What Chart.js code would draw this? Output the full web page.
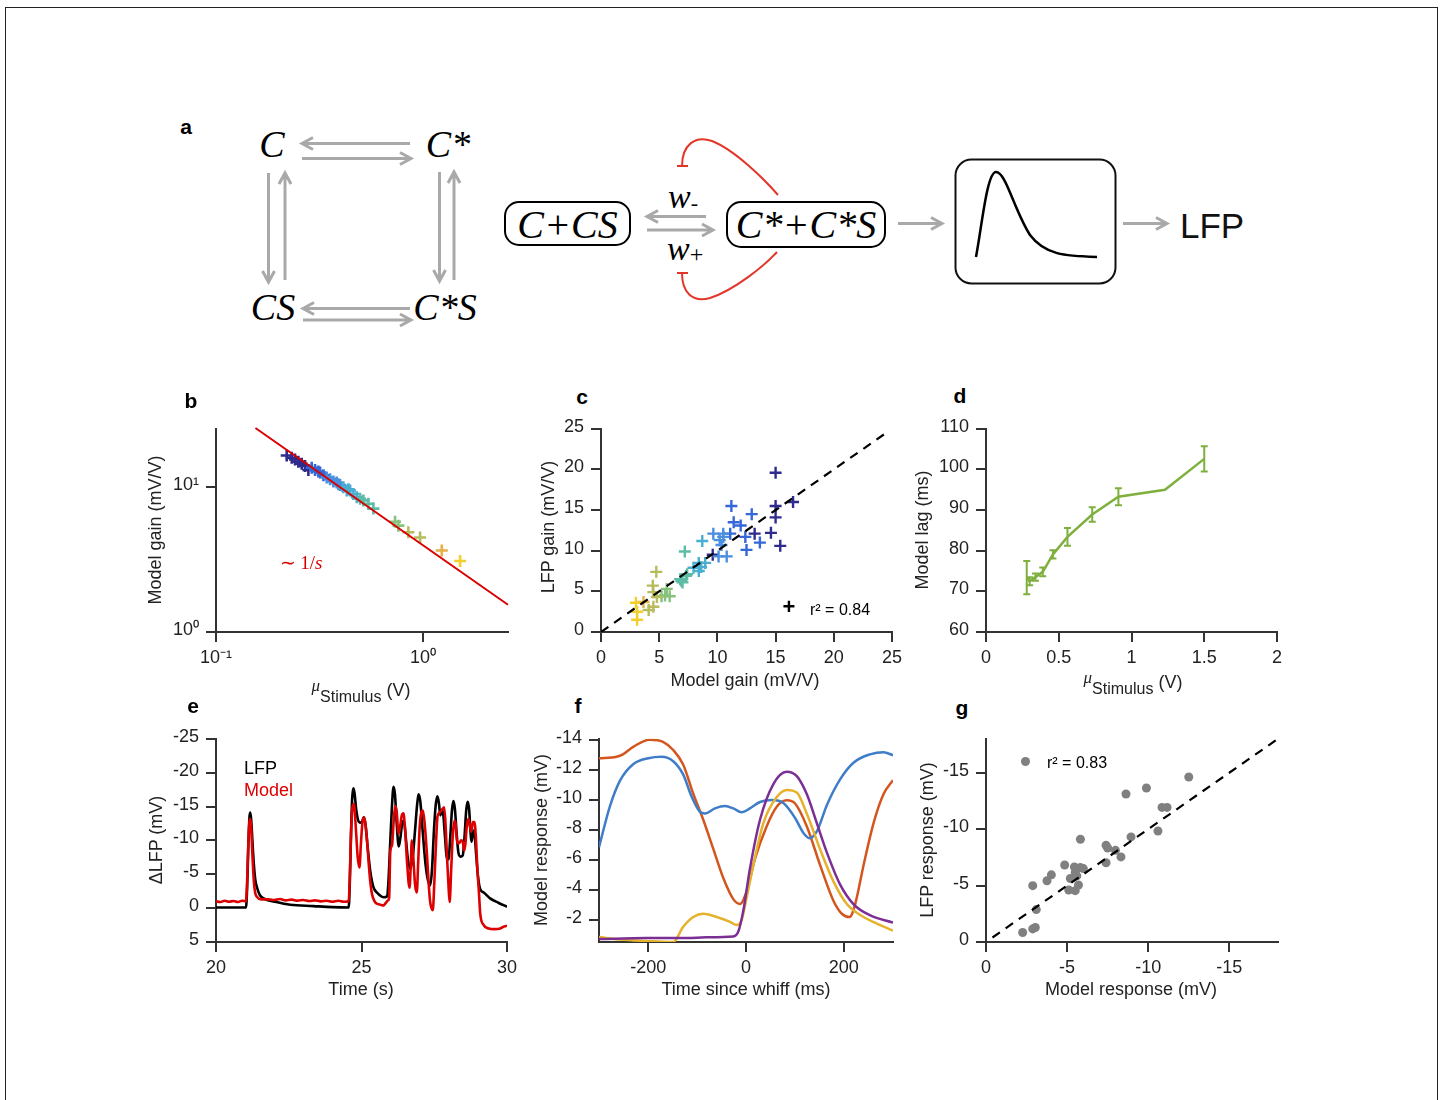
<!DOCTYPE html>
<html>
<head>
<meta charset="utf-8">
<title>LFP model figure</title>
<script src="https://cdn.jsdelivr.net/npm/chart.js@4.4.1/dist/chart.umd.min.js"></script>
<style>
  body { margin:0; width:1443px; height:1100px; position:relative; overflow:hidden; background:#fff;
         font-family:"Liberation Sans", Arial, Helvetica, sans-serif; color:#222; }
  .frame { position:absolute; left:5px; top:7px; width:1433px; height:1100px; border:1px solid #222; border-bottom:none; box-sizing:border-box; }
  canvas { position:absolute; }
  .t { position:absolute; white-space:nowrap; font-size:18px; line-height:1; transform:translate(-50%,-50%); }
  .rot { transform:translate(-50%,-50%) rotate(-90deg); }
  .lt { transform:translate(0,-50%); }
  .p { position:absolute; font-weight:bold; font-size:21px; line-height:1; color:#000; transform:translate(-50%,-50%); }
  .mu { font-family:"Liberation Serif", serif; font-style:italic; font-size:17px; position:relative; top:-5px; }
  .sub { font-size:16px; position:relative; top:6px; }
  svg { position:absolute; left:0; top:0; }
  .dg { font-family:"Liberation Serif","Times New Roman",serif; font-style:italic; fill:#000; }
</style>
</head>
<body>
<div class="frame"></div>

<svg id="diagram" width="1443" height="360">
  <g class="dg" font-size="38" text-anchor="middle">
    <text x="272" y="157">C</text>
    <text x="448" y="157">C*</text>
    <text x="273" y="320">CS</text>
    <text x="445" y="320">C*S</text>
  </g>
  <g id="arrows" stroke="#a9a9a9" stroke-width="3" fill="none"></g>
  <rect x="505" y="202" width="125" height="43" rx="14" fill="none" stroke="#000" stroke-width="2"/>
  <text class="dg" x="567.5" y="238" font-size="40" text-anchor="middle">C+CS</text>
  <rect x="727" y="202" width="158" height="45" rx="14" fill="none" stroke="#000" stroke-width="2"/>
  <text class="dg" x="806" y="238" font-size="40" text-anchor="middle">C*+C*S</text>
  <text class="dg" x="668" y="208" font-size="34">w<tspan font-size="22" font-style="normal" dy="2">-</tspan></text>
  <text class="dg" x="667" y="260" font-size="34">w<tspan font-size="24" font-style="normal" dy="2">+</tspan></text>
  <g stroke="#e3362b" stroke-width="2" fill="none">
    <path d="M778,195 C765,180 735,150 712,141 C695,135 682,145 682,166"/>
    <path d="M677,166 H688"/>
    <path d="M777,252 C765,265 735,290 710,298 C692,303 682,292 682,273"/>
    <path d="M677,273 H688"/>
  </g>
  <rect x="955.5" y="159.5" width="160" height="124" rx="16" fill="none" stroke="#111" stroke-width="2"/>
  <path d="M976,257 C982,225 987,172 996,172 C1006,172 1014,210 1030,235 C1045,255 1065,256 1097,257" fill="none" stroke="#000" stroke-width="2.5"/>
  <text x="1180" y="238" font-size="35" font-family="Liberation Sans, Arial, sans-serif" fill="#111">LFP</text>
</svg>

<div id="charts"></div>

<div class="p" style="left:186px;top:126px">a</div>
<div class="p" style="left:191px;top:400px">b</div>
<div class="p" style="left:582px;top:396px">c</div>
<div class="p" style="left:960px;top:395px">d</div>
<div class="p" style="left:193px;top:705px">e</div>
<div class="p" style="left:578px;top:705px">f</div>
<div class="p" style="left:962px;top:707px">g</div>

<div class="t rot" style="left:155px;top:530px">Model gain (mV/V)</div>
<div class="t" style="left:361px;top:690px"><span class="mu">μ</span><span class="sub">Stimulus</span> (V)</div>
<div class="t" style="left:301px;top:562px;color:#d40000;font-family:'Liberation Serif',serif;font-size:19px">∼ 1/<i>s</i></div>

<div class="t rot" style="left:548px;top:527px">LFP gain (mV/V)</div>
<div class="t" style="left:745px;top:680px">Model gain (mV/V)</div>
<div class="t" style="left:789px;top:607px;font-weight:bold;font-size:22px;color:#000">+</div>
<div class="t lt" style="left:810px;top:610px;font-size:16px;color:#000">r² = 0.84</div>

<div class="t rot" style="left:922px;top:530px">Model lag (ms)</div>
<div class="t" style="left:1133px;top:682px"><span class="mu">μ</span><span class="sub">Stimulus</span> (V)</div>

<div class="t rot" style="left:156px;top:840px">ΔLFP (mV)</div>
<div class="t" style="left:361px;top:989px">Time (s)</div>
<div class="t lt" style="left:244px;top:768px;color:#000">LFP</div>
<div class="t lt" style="left:244px;top:790px;color:#dd0000">Model</div>

<div class="t rot" style="left:541px;top:840px">Model response (mV)</div>
<div class="t" style="left:746px;top:989px">Time since whiff (ms)</div>

<div class="t rot" style="left:927px;top:840px">LFP response (mV)</div>
<div class="t" style="left:1131px;top:989px">Model response (mV)</div>
<div style="position:absolute;left:1020.5px;top:756.5px;width:9px;height:9px;border-radius:50%;background:#808080"></div>
<div class="t lt" style="left:1047px;top:763px;font-size:16px;color:#000">r² = 0.83</div>

<script>
// ---------- panel b: model gain vs mean stimulus (log-log)
const stimMean = [0.2195,0.2321,0.2408,0.2498,0.2594,0.2692,0.2793,0.2899,0.3008,0.3123,0.3181,0.3301,0.3425,0.3554,0.3688,0.3828,0.39,0.3972,0.4121,0.4279,0.436,0.4441,0.4607,0.4784,0.4963,0.5148,0.5443,0.5754,0.732,0.76,0.849,0.967,1.231,1.509];
const modelGainB = [16.36,15.78,15.37,14.83,14.37,13.86,13.02,13.5,13.02,12.7,12.49,11.98,11.56,11.26,10.86,10.69,10.4,10.25,9.89,9.4,9.6,9.4,8.91,8.47,8.25,8.04,7.63,7.06,5.74,5.39,4.86,4.47,3.64,3.08];
const fitX = [0.155, 2.57];
const fitY = [25.3, 1.54];
const logXTicks = [0.1, 1];
const logYTicks = [1, 10];
const logLabels = {0.1: '10⁻¹', 1: '10⁰', 10: '10¹'};

// ---------- panel c: LFP gain vs model gain
const modelGainC = [15.0,16.5,15.0,15.0,14.6,13.2,15.4,9.6, 13.65,12.5,12.95,11.2,11.4,12.0,12.4,11.1, 10.5,9.65,10.2,10.35,10.1,10.8,10.5, 8.7,8.4,8.95,7.95,8.4,8.6, 7.2,7.3,6.8,7.0,7.4,6.9, 5.65,5.5,5.9,5.2, 4.75,4.45,4.5,4.8,4.5,4.1, 3.65, 3.0,3.1,3.1];
const lfpGainC = [19.6,16.0,15.5,14.1,12.2,12.1,10.6,9.5, 11.0,10.1,14.5,15.5,13.5,13.1,11.7,12.1, 12.1,12.1,11.3,10.7,9.3,9.3,11.7, 11.2,8.5,8.5,7.9,7.5,8.0, 9.9,6.9,6.5,6.1,7.1,6.3, 5.3,4.5,4.4,4.4, 7.4,5.7,4.9,4.3,3.1,2.7, 3.7, 3.6,2.5,1.5];
const unityC = [0, 24.5];
const gainTicks = [0, 5, 10, 15, 20, 25];

// ---------- panel d: model lag vs mean stimulus
const lagStim = [0.28, 0.30, 0.34, 0.39, 0.46, 0.56, 0.73, 0.91, 1.23, 1.50];
const lagMs = [73.4, 72.5, 73.5, 74.8, 79.1, 83.4, 88.9, 93.3, 95.0, 102.6];
const lagErr = [4.1, 1.0, 0.9, 1.1, 1.0, 2.2, 1.8, 2.1, 0, 3.1];
const lagXTicks = [0, 0.5, 1, 1.5, 2];
const lagYTicks = [60, 70, 80, 90, 100, 110];

// ---------- panel e: LFP and model traces [time s, dLFP mV]
const lfpTrace = [[20.0,-0.1],[21.03,-0.1],[21.07,-3],[21.11,-9],[21.15,-13.4],[21.18,-14.1],[21.21,-13.0],[21.25,-10.0],[21.3,-6.5],[21.35,-4.2],[21.42,-2.9],[21.51,-1.9],[21.7,-1.3],[21.97,-1.0],[22.55,-0.5],[23.35,-0.3],[24.0,-0.15],[24.56,-0.1],
  [24.6,-4],[24.64,-11],[24.68,-16.2],[24.72,-17.7],[24.76,-17.0],[24.82,-14.5],[24.9,-12.8],[25.0,-12.6],[25.08,-13.4],[25.14,-12.3],[25.2,-9.5],[25.3,-5.5],[25.41,-3.1],[25.55,-2.2],[25.76,-1.6],[25.87,-1.7],
  [25.92,-3.5],[25.98,-9],[26.04,-14.5],[26.1,-17.9],[26.15,-16.8],[26.21,-12.5],[26.28,-9.1],[26.34,-10.5],[26.41,-12.8],[26.46,-12.9],[26.52,-10.5],[26.6,-7.0],[26.68,-5.8],[26.76,-7.5],[26.84,-11.5],[26.91,-15.2],[26.96,-16.8],[27.02,-15.8],[27.1,-11.5],[27.2,-6.5],[27.29,-4.0],[27.36,-3.4],[27.42,-5.5],[27.49,-11.5],[27.55,-15.2],[27.61,-16.5],[27.66,-15.5],[27.71,-13.7],[27.76,-14.5],[27.81,-13.8],[27.87,-10.5],[27.93,-7.5],[27.99,-7.2],[28.05,-10.5],[28.11,-14.5],[28.16,-15.8],[28.21,-14.6],[28.27,-11],[28.33,-8.2],[28.4,-7.6],[28.48,-7.8],[28.54,-10.5],[28.6,-14.5],[28.65,-15.7],[28.7,-14.5],[28.75,-11],[28.78,-9.8],[28.83,-11.2],[28.87,-11.5],[28.93,-8.5],[29.0,-4.8],[29.08,-2.8],[29.2,-2.3],[29.43,-1.4],[29.7,-0.8],[30.0,-0.2]];
const modelTrace = [[20.0,-1.0],[20.15,-0.9],[20.3,-1.1],[20.45,-0.95],[20.6,-1.05],[20.75,-0.9],[20.9,-1.1],[21.03,-1.0],[21.07,-4],[21.11,-9.5],[21.15,-12.8],[21.18,-13.2],[21.21,-11.8],[21.25,-8],[21.3,-4],[21.35,-2.2],[21.42,-1.6],[21.55,-1.3],[21.8,-1.3],[22.0,-1.2],[22.2,-1.35],[22.4,-1.15],[22.6,-1.25],[22.8,-1.1],[23.0,-1.2],[23.2,-1.05],[23.4,-1.15],[23.6,-1.0],[23.8,-1.1],[24.0,-0.95],[24.2,-1.1],[24.4,-0.95],[24.56,-1.0],
  [24.6,-5],[24.64,-11],[24.68,-14.5],[24.72,-15.35],[24.76,-14.8],[24.81,-11.5],[24.87,-7.5],[24.93,-6.0],[24.98,-9.5],[25.03,-12.5],[25.09,-13.4],[25.14,-12.2],[25.2,-9.5],[25.25,-6.5],[25.3,-4.0],[25.36,-2.1],[25.45,-1.0],[25.53,-0.65],[25.65,-0.5],[25.76,-0.4],[25.82,-0.7],[25.86,-0.9],[25.9,-1.1],[25.95,-1.5],[25.99,-8.4],[26.05,-9.3],[26.1,-12.5],[26.16,-15.1],[26.21,-14.2],[26.27,-11.0],[26.32,-11.8],[26.38,-13.6],[26.44,-14.0],[26.5,-11.5],[26.57,-6.5],[26.65,-3.0],[26.69,-6],[26.73,-10.0],[26.78,-7.5],[26.84,-3.5],[26.9,-2.3],[26.95,-7.0],[27.0,-12.0],[27.05,-14.0],[27.11,-14.4],[27.17,-12.5],[27.25,-7.9],[27.31,-3.5],[27.36,-0.9],[27.45,0.3],[27.5,-3.5],[27.56,-9.5],[27.61,-13.5],[27.66,-14.0],[27.72,-14.3],[27.78,-14.6],[27.84,-14.9],[27.88,-13.0],[27.94,-7.5],[28.0,-2.5],[28.03,-0.9],[28.08,-5.5],[28.14,-11],[28.19,-12.9],[28.23,-12.5],[28.29,-9.6],[28.36,-9.6],[28.42,-10.0],[28.48,-9.8],[28.53,-8.5],[28.57,-9.5],[28.62,-12.2],[28.68,-13.2],[28.73,-12.0],[28.77,-11.3],[28.83,-12.7],[28.88,-12.7],[28.93,-10.5],[28.98,-6],[29.04,-2],[29.08,0.8],[29.2,2.5],[29.37,3.0],[29.55,3.1],[29.77,3.0],[29.9,2.7],[30.0,2.6]];
const timeTicks = [20, 25, 30];
const dlfpTicks = [-25, -20, -15, -10, -5, 0, 5];

// ---------- panel f: model response around whiffs [ms, mV]
const whiffBlue = [[-301,-6.84],[-279,-9.55],[-258,-11.3],[-231,-12.4],[-200,-12.8],[-173,-12.9],[-149,-12.6],[-128.5,-11.7],[-111,-10.2],[-94,-9.2],[-84,-9.1],[-63.6,-9.44],[-43,-9.6],[-26,-9.44],[-9,-9.18],[8,-9.44],[28.7,-9.87],[52.6,-10.0],[76.6,-9.8],[100.5,-8.8],[117.6,-7.8],[130,-7.45],[145,-7.9],[165.5,-9.66],[193,-11.4],[220,-12.5],[254,-13.06],[281.7,-13.2],[301,-13.0]];
const whiffOrange = [[-301,-12.8],[-265,-12.9],[-252,-13.06],[-231,-13.56],[-197,-14.04],[-170,-13.9],[-149,-13.35],[-128.5,-12.37],[-108,-10.42],[-87.5,-8.68],[-67,-6.73],[-46.5,-4.78],[-26,-3.37],[-12.3,-3.04],[1.4,-3.9],[18.5,-6.08],[42.4,-8.25],[62.9,-9.55],[83.4,-9.98],[100.5,-9.77],[124.4,-8.25],[151.8,-5.64],[179,-3.26],[196.2,-2.39],[212,-2.17],[223.6,-3.04],[240.7,-5.64],[261.2,-8.46],[281.7,-10.4],[301,-11.33]];
const whiffYellow = [[-301,-0.83],[-258.5,-0.66],[-190,-0.55],[-149,-0.5],[-128.5,-1.52],[-108,-2.17],[-87.5,-2.39],[-60,-2.17],[-32.8,-1.85],[-19,-1.63],[-9,-1.96],[1.4,-3.48],[15,-5.64],[35.6,-8.46],[62.9,-10.2],[83.4,-10.68],[104,-10.5],[124.4,-9.1],[151.8,-6.7],[179,-4.56],[206.5,-3.04],[240.7,-2.17],[274.9,-1.63],[301,-1.26]];
const whiffPurple = [[-301,-0.7],[-204,-0.76],[-122,-0.76],[-81,-0.81],[-26,-0.87],[-15.7,-1.2],[-5.5,-2.6],[8.2,-5.43],[28.7,-8.68],[56,-11.07],[83.4,-11.9],[104,-11.6],[124.4,-10.4],[145,-8.46],[165.5,-6.5],[192.8,-4.34],[220,-3.04],[254.4,-2.28],[301,-1.8]];
const whiffXTicks = [-200, 0, 200];
const whiffYTicks = [-14, -12, -10, -8, -6, -4, -2];

// ---------- panel g: LFP response vs model response
const respModel = [-2.26,-2.88,-3.04,-3.1,-2.88,-3.76,-4.03,-4.85,-5.1,-5.2,-5.45,-5.5,-5.5,-5.6,-5.7,-5.82,-6.0,-5.82,-7.4,-7.4,-7.5,-7.98,-8.32,-8.94,-8.63,-9.89,-10.6,-10.85,-11.16,-12.5];
const respLfp = [-0.84,-1.16,-1.28,-2.87,-4.99,-5.43,-5.95,-6.82,-4.61,-5.63,-6.64,-4.55,-6.15,-5.86,-5.05,-6.59,-6.5,-9.1,-7.02,-8.56,-8.33,-8.12,-7.54,-9.31,-13.11,-13.64,-9.83,-11.92,-11.92,-14.62];
const unityG = [-0.4, -18];
const respTicks = [0, -5, -10, -15];

// ---------- styles
const FONT = '"Liberation Sans", Arial, Helvetica, sans-serif';
const AXIS = '#333';
const PARULA = ['#2f2b8c', '#3468d8', '#4a8fe0', '#4aaed0', '#5cbca6', '#86c27c', '#b6bb5c', '#e6ae48', '#f3cf2c'];
const groupsB = [7, 5, 6, 6, 4, 2, 2, 1, 1];
const groupsC = [8, 8, 7, 6, 6, 4, 6, 1, 3];
function expand(groups) {
  const out = [];
  groups.forEach((n, i) => { for (let k = 0; k < n; k++) out.push(PARULA[i]); });
  return out;
}
const toXY = (xs, ys) => xs.map((x, i) => ({x, y: ys[i]}));
const pairs = arr => arr.map(p => ({x: p[0], y: p[1]}));

// ---------- gray arrows of the scheme (drawing only)
const arrowSegs = [
  [410,143.5,302,143.5],[302,158.5,411,158.5],[268.5,173,268.5,282],[285,280,285,173],
  [439.5,172,439.5,281],[454,280,454,172],[410,308.5,303,308.5],[303,320,411,320],
  [706,216.5,647,216.5],[647,230,713,230],[898,223.5,942,223.5],[1123,223.5,1167,223.5]
];
const ag = document.getElementById('arrows');
arrowSegs.forEach(([x1, y1, x2, y2]) => {
  const len = Math.hypot(x2 - x1, y2 - y1), dx = (x2 - x1) / len, dy = (y2 - y1) / len;
  const p = document.createElementNS('http://www.w3.org/2000/svg', 'path');
  const ax = x2 - 11 * dx, ay = y2 - 11 * dy;
  p.setAttribute('d', `M${x1},${y1} L${x2},${y2} M${ax - 6 * dy},${ay + 6 * dx} L${x2},${y2} L${ax + 6 * dy},${ay - 6 * dx}`);
  ag.appendChild(p);
});

// ---------- chart helpers
const PAD = {left: 70, top: 14, right: 22, bottom: 46};

function axis(dir, o) {
  return {
    type: o.type || 'linear', min: o.min, max: o.max, reverse: !!o.reverse,
    border: {display: true, color: AXIS, width: 2},
    grid: {drawOnChartArea: false, drawTicks: true, tickLength: 10, color: AXIS, lineWidth: 2},
    ticks: {color: '#222', font: {family: FONT, size: 18}, padding: dir === 'x' ? 5 : 7,
            labelOffset: dir === 'x' ? 0 : -2,
            maxRotation: 0, autoSkip: false, callback: o.label || (v => String(v))},
    afterBuildTicks: s => { s.ticks = o.ticks.map(v => ({value: v})); },
    afterFit: s => { if (dir === 'x') s.height = PAD.bottom; else s.width = PAD.left; }
  };
}

function panel(box, datasets, xo, yo, plugins) {
  const c = document.createElement('canvas');
  const left = Math.round(box.l - PAD.left), top = Math.round(box.t - PAD.top);
  const w = Math.round(box.r + PAD.right - left), h = Math.round(box.b + PAD.bottom - top);
  c.width = w; c.height = h;
  c.style.left = left + 'px'; c.style.top = top + 'px';
  c.style.width = w + 'px'; c.style.height = h + 'px';
  document.getElementById('charts').appendChild(c);
  return new Chart(c.getContext('2d'), {
    type: 'scatter',
    data: {datasets},
    options: {
      responsive: false, animation: false, devicePixelRatio: 1,
      layout: {padding: {left: 0, top: PAD.top, right: PAD.right, bottom: 0}},
      plugins: {legend: {display: false}, tooltip: {enabled: false}},
      scales: {x: axis('x', xo), y: axis('y', yo)}
    },
    plugins: plugins || []
  });
}

const line = (data, color, extra) => Object.assign({data, showLine: true, borderColor: color, borderWidth: 2.5,
  pointRadius: 0, fill: false, cubicInterpolationMode: 'monotone'}, extra || {});

// b
const colorsB = expand(groupsB);
panel({l: 216, t: 425, r: 507.7, b: 632.3}, [
  line(toXY(fitX, fitY), '#d90000', {borderWidth: 2, cubicInterpolationMode: 'default', clip: false}),
  {data: toXY(stimMean, modelGainB), pointStyle: 'cross', pointRadius: 6, pointBorderWidth: 2.6,
   pointBorderColor: colorsB, pointBackgroundColor: colorsB}
], {type: 'logarithmic', min: 0.1, max: 2.57, ticks: logXTicks, label: v => logLabels[v]},
   {type: 'logarithmic', min: 1, max: 25, ticks: logYTicks, label: v => logLabels[v]});

// c
const colorsC = expand(groupsC);
panel({l: 600.7, t: 425, r: 891.7, b: 632.3}, [
  line(toXY(unityC, unityC), '#000', {borderWidth: 2.2, borderDash: [9, 7], cubicInterpolationMode: 'default'}),
  {data: toXY(modelGainC, lfpGainC), pointStyle: 'cross', pointRadius: 6, pointBorderWidth: 2.4,
   pointBorderColor: colorsC, pointBackgroundColor: colorsC}
], {min: 0, max: 25, ticks: gainTicks}, {min: 0, max: 25, ticks: gainTicks});

// d
const GREEN = '#7fb03e';
const errorBars = {
  id: 'errorBars',
  afterDatasetsDraw(chart) {
    const {ctx, scales: {x, y}} = chart;
    ctx.save();
    ctx.strokeStyle = GREEN; ctx.lineWidth = 2;
    lagStim.forEach((v, i) => {
      if (!lagErr[i]) return;
      const px = x.getPixelForValue(v);
      const y0 = y.getPixelForValue(lagMs[i] - lagErr[i]), y1 = y.getPixelForValue(lagMs[i] + lagErr[i]);
      ctx.beginPath();
      ctx.moveTo(px, y0); ctx.lineTo(px, y1);
      ctx.moveTo(px - 3.5, y0); ctx.lineTo(px + 3.5, y0);
      ctx.moveTo(px - 3.5, y1); ctx.lineTo(px + 3.5, y1);
      ctx.stroke();
    });
    ctx.restore();
  }
};
panel({l: 985.7, t: 425, r: 1276.7, b: 632.3}, [
  line(toXY(lagStim, lagMs), GREEN, {cubicInterpolationMode: 'default', tension: 0})
], {min: 0, max: 2, ticks: lagXTicks}, {min: 60, max: 110, ticks: lagYTicks}, [errorBars]);

// e
panel({l: 216, t: 735, r: 506.7, b: 942.3}, [
  line(pairs(modelTrace), '#dd0000', {borderWidth: 2.6}),
  line(pairs(lfpTrace), '#000', {borderWidth: 2.6})
], {min: 20, max: 30, ticks: timeTicks}, {min: -25, max: 5, reverse: true, ticks: dlfpTicks});

// f
panel({l: 599.3, t: 735, r: 892.7, b: 942.3}, [
  line(pairs(whiffPurple), '#7b2f95'),
  line(pairs(whiffYellow), '#e6b22e'),
  line(pairs(whiffBlue), '#3f7dc8'),
  line(pairs(whiffOrange), '#d4561f')
], {min: -301, max: 301, ticks: whiffXTicks}, {min: -14.1, max: -0.5, reverse: true, ticks: whiffYTicks});

// g
panel({l: 985.7, t: 735, r: 1277.7, b: 942.3}, [
  line(toXY(unityG, unityG), '#000', {borderWidth: 2.2, borderDash: [9, 7], cubicInterpolationMode: 'default'}),
  {data: toXY(respModel, respLfp), pointStyle: 'circle', pointRadius: 4.5, pointBorderWidth: 0,
   pointBackgroundColor: '#808080', pointBorderColor: '#808080'}
], {min: -18, max: 0, reverse: true, ticks: respTicks}, {min: -18, max: 0, reverse: true, ticks: respTicks});
</script>
</body>
</html>
